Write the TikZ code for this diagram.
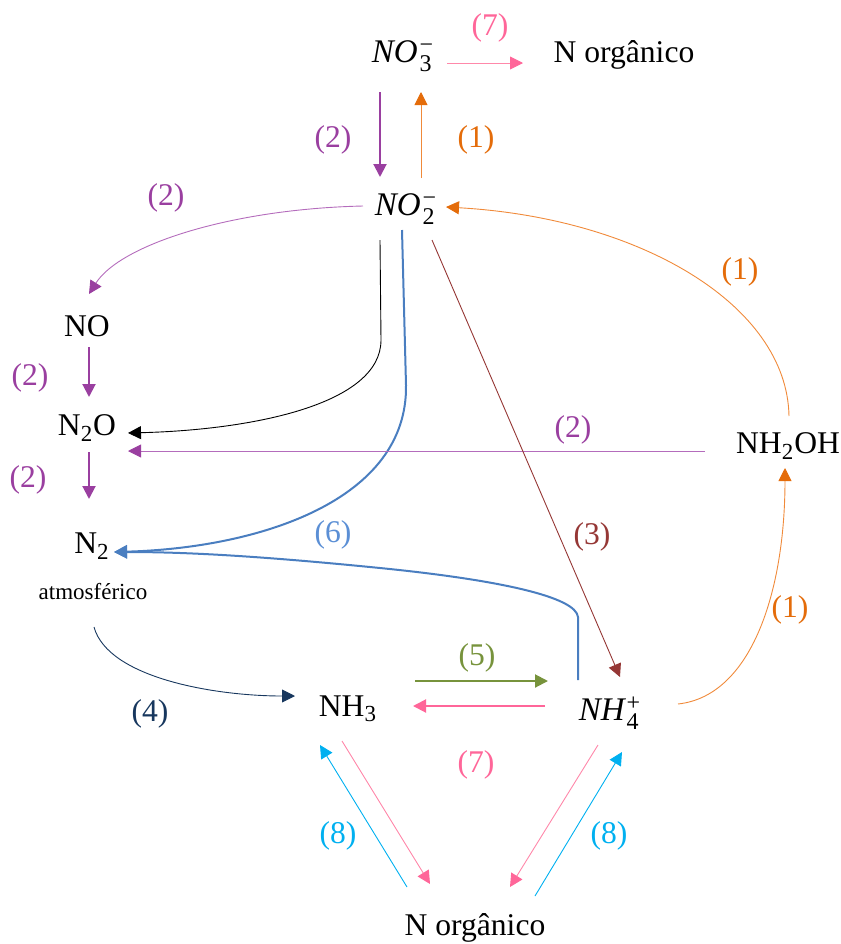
\documentclass[tikz,border=0pt]{standalone}
\usepackage{fontspec}
\setmainfont{Liberation Serif}
\newfontfamily\labelserif{Liberation Serif}
\usetikzlibrary{arrows.meta}

\definecolor{cPurple}{HTML}{9A3FA0}
\definecolor{cPurpleL}{HTML}{B46CBC}
\definecolor{cOrange}{HTML}{E46C0A}
\definecolor{cOrangeL}{HTML}{F08A3A}
\definecolor{cPink}{HTML}{FF6699}
\definecolor{cPinkL}{HTML}{FF88AA}
\definecolor{cBlue}{HTML}{4A7EC0}
\definecolor{cBlueT}{HTML}{5B8FD5}
\definecolor{cBrown}{HTML}{953735}
\definecolor{cGreen}{HTML}{77933C}
\definecolor{cNavy}{HTML}{17375E}
\definecolor{cCyan}{HTML}{00B0F0}

% ion with stacked sub- and superscript, set in italic
\newcommand{\chemion}[3]{{\fontsize{16.5}{18}\selectfont\itshape #1\kern1pt}$^{\mbox{\labelserif\fontsize{12}{13}\selectfont #3}}_{\mbox{\labelserif\fontsize{12}{13}\selectfont #2}}$}
% plain lowered index
\newcommand{\lowidx}[1]{$_{\mbox{\labelserif\fontsize{11.5}{12}\selectfont #1}}$}

\begin{document}
\begin{tikzpicture}[x=0.5pt,y=-0.5pt,
  every node/.style={inner sep=0pt},
  species/.style={text=black,font=\labelserif\fontsize{15.8}{18}\selectfont},
  lbl/.style={font=\labelserif\fontsize{15.8}{18}\selectfont},
  small/.style={font=\labelserif\fontsize{11.5}{13}\selectfont},
  tip/.style={-{Triangle[length=6.5pt,width=6.5pt,color=#1,fill=#1]}},
  thick line/.style={line width=1pt},
  thin line/.style={line width=0.45pt}]
\useasboundingbox (0,0) rectangle (841,944);

% species
\node[species] (no3) at (403,56) {\chemion{NO}{3}{−}};
\node[species] (norgT) at (624,55) {N orgânico};
\node[species] (no2) at (406,209) {\chemion{NO}{2}{−}};
\node[species] (no) at (87,326) {NO};
\node[species] (n2o) at (87,428) {N\lowidx{2}O};
\node[species] (nh2oh) at (788,446) {NH\lowidx{2}OH};
\node[species] (n2) at (92,546) {N\lowidx{2}};
\node[small] (atm) at (93,592) {atmosférico};
\node[species] (nh3) at (348,709) {NH\lowidx{3}};
\node[species] (nh4) at (610,713) {\chemion{NH}{4}{+}};
\node[species] (norgB) at (475,928) {N orgânico};

% anchor points of the connectors
\coordinate (a7s) at (447,63);   \coordinate (a7e) at (523,63);
\coordinate (d2s) at (380,92);   \coordinate (d2e) at (380,177);
\coordinate (u1s) at (421,178);  \coordinate (u1e) at (421,92);
\coordinate (c2s) at (363,206);  \coordinate (c2e) at (89,294);
\coordinate (v2s) at (89,347);   \coordinate (v2e) at (89,397);
\coordinate (w2s) at (89,452);   \coordinate (w2e) at (89,499);
\coordinate (bks) at (380,240);  \coordinate (bke) at (128,433);
\coordinate (bls) at (402,230);  \coordinate (ble) at (114,552);
\coordinate (h2s) at (705,451);  \coordinate (h2e) at (128,451);
\coordinate (brs) at (432,240);  \coordinate (bre) at (620,677);
\coordinate (o1s) at (789,416);  \coordinate (o1e) at (446,207);
\coordinate (p1s) at (678,704);  \coordinate (p1e) at (785,468);
\coordinate (b6s) at (578,680);
\coordinate (n4s) at (94,627);   \coordinate (n4e) at (295,696);
\coordinate (g5s) at (415,681);  \coordinate (g5e) at (548,681);
\coordinate (k7s) at (545,706);  \coordinate (k7e) at (413,706);
\coordinate (l8s) at (407,887);  \coordinate (l8e) at (320,745);
\coordinate (l7s) at (342,741);  \coordinate (l7e) at (430,884);
\coordinate (r7s) at (598,745);  \coordinate (r7e) at (510,887);
\coordinate (r8s) at (535,896);  \coordinate (r8e) at (622,752);

% connectors
\draw[tip=cPink,thin line,cPinkL] (a7s) -- (a7e);
\draw[tip=cPurple,thick line,cPurple] (d2s) -- (d2e);
\draw[tip=cOrange,thin line,cOrangeL] (u1s) -- (u1e);
\draw[tip=cPurple,thin line,cPurpleL]
  (c2s) .. controls (230,209) and (120,245) .. (c2e);
\draw[tip=cPurple,thick line,cPurple] (v2s) -- (v2e);
\draw[tip=cPurple,thick line,cPurple] (w2s) -- (w2e);
\draw[tip=black,thin line,black] (bks) -- (381,340) .. controls (381,405) and (250,430) .. (bke);
\draw[tip=cBlue,thick line,cBlue] (bls) -- (406,385) .. controls (408,500) and (260,548) .. (ble);
\draw[tip=cPurple,thin line,cPurpleL] (h2s) -- (h2e);
\draw[tip=cBrown,thin line,cBrown] (brs) -- (bre);
\draw[tip=cOrange,thin line,cOrangeL]
  (o1s) .. controls (787,305) and (640,218) .. (o1e);
\draw[tip=cOrange,thin line,cOrangeL]
  (p1s) .. controls (752,696) and (785,590) .. (p1e);
\draw[tip=cBlue,thick line,cBlue] (b6s) -- (578,617) .. controls (576,597) and (500,580) .. (380,568)
  .. controls (250,555) and (180,552) .. (ble);
\draw[tip=cNavy,thin line,cNavy] (n4s) .. controls (108,678) and (215,696) .. (n4e);
\draw[tip=cGreen,thick line,cGreen] (g5s) -- (g5e);
\draw[tip=cPink,thick line,cPink] (k7s) -- (k7e);
\draw[tip=cCyan,thin line,cCyan] (l8s) -- (l8e);
\draw[tip=cPink,thin line,cPinkL] (l7s) -- (l7e);
\draw[tip=cPink,thin line,cPinkL] (r7s) -- (r7e);
\draw[tip=cCyan,thin line,cCyan] (r8s) -- (r8e);

% step numbers
\node[lbl,text=cPink] (t7a) at (490,28) {(7)};
\node[lbl,text=cPurple] (t2a) at (333,140) {(2)};
\node[lbl,text=cOrange] (t1a) at (476,140) {(1)};
\node[lbl,text=cPurple] (t2b) at (166,198) {(2)};
\node[lbl,text=cOrange] (t1b) at (740,272) {(1)};
\node[lbl,text=cPurple] (t2c) at (30,378) {(2)};
\node[lbl,text=cPurple] (t2d) at (573,430) {(2)};
\node[lbl,text=cPurple] (t2e) at (28,480) {(2)};
\node[lbl,text=cBlueT] (t6) at (333,535) {(6)};
\node[lbl,text=cBrown] (t3) at (592,537) {(3)};
\node[lbl,text=cOrange] (t1c) at (790,610) {(1)};
\node[lbl,text=cGreen] (t5) at (477,658) {(5)};
\node[lbl,text=cNavy] (t4) at (150,714) {(4)};
\node[lbl,text=cPink] (t7b) at (476,765) {(7)};
\node[lbl,text=cCyan] (t8a) at (338,836) {(8)};
\node[lbl,text=cCyan] (t8b) at (609,836) {(8)};
\end{tikzpicture}
\end{document}
